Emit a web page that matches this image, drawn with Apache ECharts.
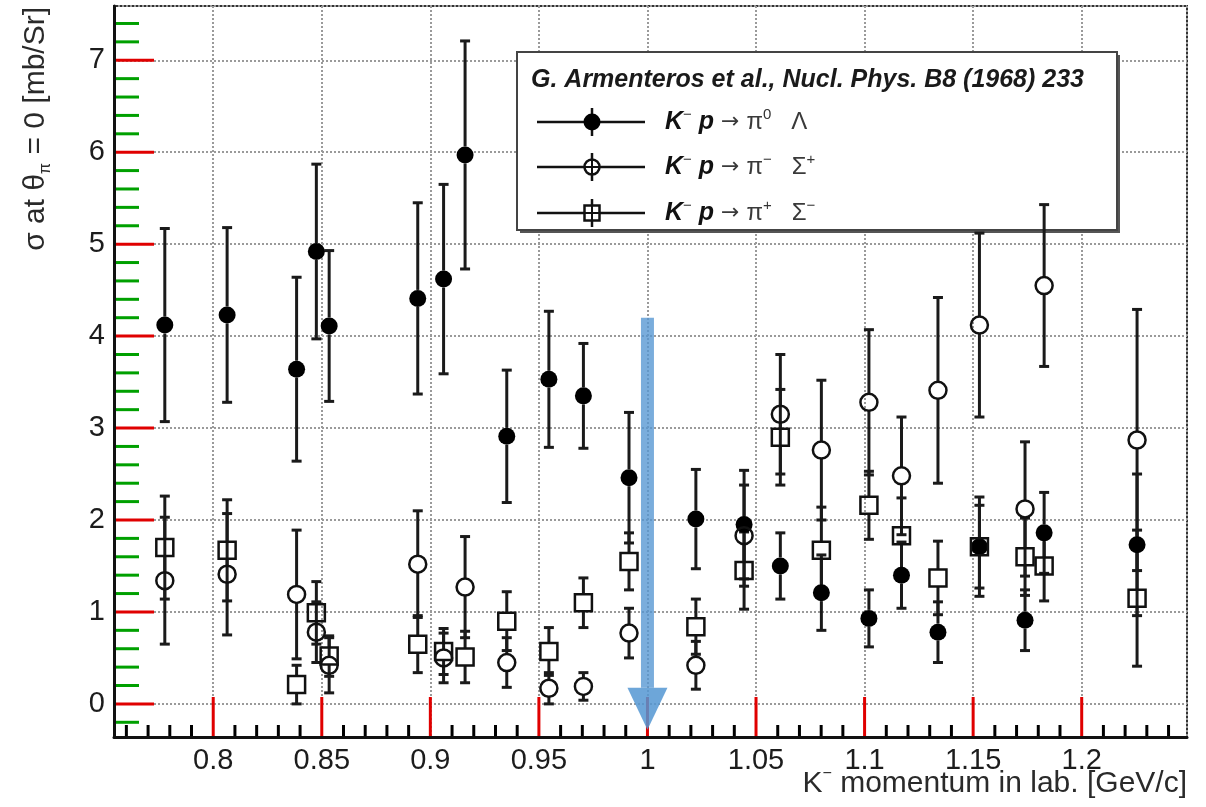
<!DOCTYPE html>
<html>
<head>
<meta charset="utf-8">
<script src="https://cdn.jsdelivr.net/npm/echarts@6/dist/echarts.min.js"></script>
<style>
  html, body { margin: 0; padding: 0; background: #fff; }
  #chart { width: 1206px; height: 807px; }
</style>
</head>
<body>
<div id="chart"></div>
<script>
// K- momentum in the lab frame [GeV/c]
const momentum = [0.7777, 0.8064, 0.8384, 0.8475, 0.8534, 0.8942, 0.9061, 0.9160,
  0.9352, 0.9546, 0.9705, 0.9915, 1.0223, 1.0445, 1.0612, 1.0801, 1.1020, 1.1170,
  1.1338, 1.1529, 1.1739, 1.1827, 1.2255];

// K- p -> pi0 Lambda  (sigma at theta_pi = 0, mb/sr) and its uncertainty
const lambdaXs = [4.12, 4.23, 3.64, 4.92, 4.11, 4.41, 4.62, 5.97, 2.91, 3.53, 3.35, 2.46,
  2.01, 1.95, 1.50, 1.21, 0.93, 1.40, 0.78, 1.71, 0.91, 1.86, 1.73];
const lambdaErr = [1.05, 0.95, 1.00, 0.95, 0.82, 1.04, 1.03, 1.24, 0.72, 0.74, 0.57, 0.71,
  0.54, 0.59, 0.36, 0.41, 0.31, 0.36, 0.33, 0.54, 0.33, 0.44, 0.77];

// K- p -> pi- Sigma+
const sigmaPlusXs = [1.34, 1.41, 1.19, 0.78, 0.42, 1.52, 0.50, 1.27, 0.45, 0.17, 0.19, 0.77,
  0.42, 1.83, 3.15, 2.76, 3.28, 2.48, 3.41, 4.12, 2.12, 4.55, 2.87];
const sigmaPlusErr = [0.69, 0.66, 0.70, 0.33, 0.30, 0.58, 0.27, 0.55, 0.27, 0.17, 0.15, 0.27,
  0.26, 0.55, 0.65, 0.76, 0.79, 0.64, 1.01, 1.00, 0.73, 0.88, 1.42];

// K- p -> pi+ Sigma-
const sigmaMinusXs = [1.70, 1.67, 0.21, 0.99, 0.52, 0.65, 0.57, 0.51, 0.90, 0.57, 1.10, 1.55,
  0.84, 1.45, 2.90, 1.67, 2.16, 1.83, 1.37, 1.71, 1.60, 1.50, 1.15];
const sigmaMinusErr = [0.56, 0.55, 0.21, 0.34, 0.22, 0.31, 0.25, 0.28, 0.32, 0.26, 0.27, 0.31,
  0.30, 0.42, 0.52, 0.47, 0.37, 0.41, 0.40, 0.45, 0.42, 0.38, 0.74];

// axes
const xTicks = [0.8, 0.85, 0.9, 0.95, 1, 1.05, 1.1, 1.15, 1.2];
const yTicks = [0, 1, 2, 3, 4, 5, 6, 7];
const xRange = [0.7543, 1.2485];
const yRange = [-0.36, 7.59];

// threshold marker (arrow from top value down to tip value)
const arrowAt = [1.0];
const arrowFrom = [4.2];
const arrowTo = [-0.28];

const FONT = "'Liberation Sans', Arial, Helvetica, sans-serif";
const INK = '#111';
const MARK = 17;

// tick positions between the labelled ones
function tickValues(lo, hi, step, skip) {
  const out = [];
  const n0 = Math.ceil(lo / step - 1e-9), n1 = Math.floor(hi / step + 1e-9);
  for (let n = n0; n <= n1; n++) {
    const v = +(n * step).toFixed(4);
    if (!skip.some(m => Math.abs(m - v) < 1e-6)) out.push(v);
  }
  return out;
}
const xMinor = tickValues(xRange[0], xRange[1], 0.01, xTicks);
const yMinor = tickValues(yRange[0], yRange[1], 0.2, yTicks);

function errorBarSeries(name, ys, es) {
  return {
    name: name + ' err',
    type: 'custom',
    z: 2,
    silent: true,
    data: momentum.map((x, i) => [x, ys[i], es[i]]),
    renderItem(params, api) {
      const x = api.value(0), y = api.value(1), e = api.value(2);
      const c = api.coord([x, y]);
      const hi = api.coord([x, y + e]);
      const lo = api.coord([x, y - e]);
      const r = MARK / 2;
      const st = { stroke: '#1a1a1a', lineWidth: 3 };
      const kids = [];
      if (hi[1] < c[1] - r) kids.push({ type: 'line', shape: { x1: c[0], y1: c[1] - r, x2: hi[0], y2: hi[1] }, style: st });
      if (lo[1] > c[1] + r) kids.push({ type: 'line', shape: { x1: c[0], y1: c[1] + r, x2: lo[0], y2: lo[1] }, style: st });
      kids.push({ type: 'line', shape: { x1: hi[0] - 5, y1: hi[1], x2: hi[0] + 5, y2: hi[1] }, style: st });
      kids.push({ type: 'line', shape: { x1: lo[0] - 5, y1: lo[1], x2: lo[0] + 5, y2: lo[1] }, style: st });
      return { type: 'group', children: kids };
    }
  };
}

function markerSeries(name, ys, symbol, filled) {
  return {
    name: name,
    type: 'scatter',
    z: 3,
    symbol: symbol,
    symbolSize: MARK,
    data: momentum.map((x, i) => [x, ys[i]]),
    itemStyle: filled
      ? { color: '#000', opacity: 1 }
      : { color: 'rgba(255,255,255,0)', borderColor: INK, borderWidth: 2.5, opacity: 1 },
    emphasis: { disabled: true }
  };
}

const arrowSeries = {
  type: 'custom',
  z: 4,
  silent: true,
  data: arrowAt.map((x, i) => [x, arrowFrom[i], arrowTo[i]]),
  renderItem(params, api) {
    const top = api.coord([api.value(0), api.value(1)]);
    const tip = api.coord([api.value(0), api.value(2)]);
    const headLen = 42, headHalf = 20, shaftHalf = 6.5;
    const base = tip[1] - headLen;
    return {
      type: 'group',
      children: [
        { type: 'rect', shape: { x: top[0] - shaftHalf, y: top[1], width: shaftHalf * 2, height: base - top[1] },
          style: { fill: 'rgba(84,150,210,0.78)' } },
        { type: 'polygon', shape: { points: [[tip[0] - headHalf, base], [tip[0] + headHalf, base], [tip[0], tip[1]]] },
          style: { fill: 'rgba(84,150,210,0.85)' } }
      ]
    };
  }
};

const gridLine = { show: true, lineStyle: { color: '#9a9a9a', width: 2, type: [2, 2] } };

// legend drawn as a boxed panel inside the frame
const L = { x: 517, y: 52, w: 600, h: 178 };
const rowsY = [122, 167, 213];
const legendRows = [
  { text: '{b|K}{sup|−}{b| p}{ar| → }{n|π}{sup|0}{n|   Λ}', kind: 'filled' },
  { text: '{b|K}{sup|−}{b| p}{ar| → }{n|π}{sup|−}{n|   Σ}{sup|+}', kind: 'circle' },
  { text: '{b|K}{sup|−}{b| p}{ar| → }{n|π}{sup|+}{n|   Σ}{sup|−}', kind: 'square' }
];
const richRow = {
  b: { fontFamily: FONT, fontSize: 25, fontWeight: 'bold', fontStyle: 'italic', fill: '#111', lineHeight: 30 },
  n: { fontFamily: FONT, fontSize: 24, fill: '#3a3a3a', lineHeight: 30 },
  ar: { fontFamily: "'DejaVu Sans', sans-serif", fontSize: 22, fill: '#3a3a3a', lineHeight: 30 },
  sup: { fontFamily: FONT, fontSize: 15, fill: '#333', verticalAlign: 'top', lineHeight: 30 }
};
const legendChildren = [
  { type: 'rect', shape: { x: L.x + 3, y: L.y + 3, width: L.w, height: L.h }, style: { fill: '#555' } },
  { type: 'rect', shape: { x: L.x, y: L.y, width: L.w, height: L.h }, style: { fill: '#fff', stroke: '#444', lineWidth: 2 } },
  { type: 'text', x: L.x + 14, y: 80,
    style: { text: 'G. Armenteros et al., Nucl. Phys. B8 (1968) 233', fontFamily: FONT, fontSize: 25,
      fontStyle: 'italic', fontWeight: 'bold', fill: '#1a1a1a', align: 'left', verticalAlign: 'middle' } }
];
legendRows.forEach((row, i) => {
  const y = rowsY[i];
  const mx = 592;
  legendChildren.push({ type: 'line', shape: { x1: 537, y1: y, x2: 645, y2: y }, style: { stroke: INK, lineWidth: 2.5 } });
  legendChildren.push({ type: 'line', shape: { x1: mx, y1: y - 14, x2: mx, y2: y + 14 }, style: { stroke: INK, lineWidth: 2.5 } });
  if (row.kind === 'filled') {
    legendChildren.push({ type: 'circle', shape: { cx: mx, cy: y, r: MARK / 2 }, style: { fill: '#000' } });
  } else if (row.kind === 'circle') {
    legendChildren.push({ type: 'circle', shape: { cx: mx, cy: y, r: MARK / 2 - 1 }, style: { fill: '#fff', stroke: INK, lineWidth: 2.5 } });
    legendChildren.push({ type: 'line', shape: { x1: mx - 7, y1: y, x2: mx + 7, y2: y }, style: { stroke: INK, lineWidth: 2 } });
    legendChildren.push({ type: 'line', shape: { x1: mx, y1: y - 7, x2: mx, y2: y + 7 }, style: { stroke: INK, lineWidth: 2 } });
  } else {
    legendChildren.push({ type: 'rect', shape: { x: mx - MARK / 2 + 1, y: y - MARK / 2 + 1, width: MARK - 2, height: MARK - 2 }, style: { fill: '#fff', stroke: INK, lineWidth: 2.5 } });
    legendChildren.push({ type: 'line', shape: { x1: mx - 7, y1: y, x2: mx + 7, y2: y }, style: { stroke: INK, lineWidth: 2 } });
    legendChildren.push({ type: 'line', shape: { x1: mx, y1: y - 7, x2: mx, y2: y + 7 }, style: { stroke: INK, lineWidth: 2 } });
  }
  legendChildren.push({ type: 'text', x: 665, y: y,
    style: { text: row.text, rich: richRow, align: 'left', verticalAlign: 'middle' } });
});

const chart = echarts.init(document.getElementById('chart'), null, { renderer: 'canvas' });
chart.setOption({
  animation: false,
  backgroundColor: '#fff',
  grid: { left: 114, top: 6, right: 19, bottom: 70, show: true, borderColor: '#333', borderWidth: 2, containLabel: false },
  xAxis: {
    type: 'value', min: xRange[0], max: xRange[1], splitNumber: 10,
    axisLine: { show: true, onZero: false, lineStyle: { color: INK, width: 3 } },
    axisTick: { show: false },
    axisLabel: { show: true, customValues: xTicks, margin: 9, fontSize: 29, fontFamily: FONT, color: '#1c1c1c' },
    splitLine: gridLine
  },
  yAxis: {
    type: 'value', min: yRange[0], max: yRange[1], splitNumber: 8,
    axisLine: { show: true, onZero: false, lineStyle: { color: INK, width: 3 } },
    axisTick: { show: false },
    axisLabel: { show: true, customValues: yTicks, margin: 9, fontSize: 29, fontFamily: FONT, color: '#1c1c1c' },
    splitLine: gridLine
  },
  series: [
    errorBarSeries('pi0 Lambda', lambdaXs, lambdaErr),
    errorBarSeries('pi- Sigma+', sigmaPlusXs, sigmaPlusErr),
    errorBarSeries('pi+ Sigma-', sigmaMinusXs, sigmaMinusErr),
    markerSeries('pi0 Lambda', lambdaXs, 'circle', true),
    markerSeries('pi- Sigma+', sigmaPlusXs, 'circle', false),
    markerSeries('pi+ Sigma-', sigmaMinusXs, 'rect', false),
    arrowSeries
  ]
});

// inward tick marks on the bottom and left frame edges, placed through the axis scales
const toPx = (x, y) => chart.convertToPixel({ gridIndex: 0 }, [x, y]);
const tickLines = [];
function addTicks(values, onLeft, len, color) {
  const st = { stroke: color, lineWidth: 3 };
  values.forEach(v => {
    const p = onLeft ? toPx(xRange[0], v) : toPx(v, yRange[0]);
    tickLines.push(onLeft
      ? { type: 'line', shape: { x1: p[0], y1: p[1], x2: p[0] + len, y2: p[1] }, style: st }
      : { type: 'line', shape: { x1: p[0], y1: p[1], x2: p[0], y2: p[1] - len }, style: st });
  });
}
addTicks(xTicks, false, 40, '#e00000');
addTicks(xMinor, false, 12, '#000');
addTicks(yTicks, true, 40, '#e00000');
addTicks(yMinor, true, 25, '#00a000');

chart.setOption({
  graphic: [
    { id: 'ticks', type: 'group', z: 8, silent: true, children: tickLines },
    { id: 'legend', type: 'group', z: 10, children: legendChildren },
    { id: 'ytitle', type: 'text', x: 36, y: 7, rotation: Math.PI / 2, z: 10,
      style: { text: 'σ at θ{sub|π} = 0 [mb/Sr]', fontFamily: FONT, fontSize: 30, fill: '#2a2a2a',
        align: 'right', verticalAlign: 'middle',
        rich: { sub: { fontFamily: FONT, fontSize: 16, fill: '#2a2a2a', verticalAlign: 'bottom', lineHeight: 36 } } } },
    { id: 'xtitle', type: 'text', x: 1187, y: 784, z: 10,
      style: { text: 'K{sup|−} momentum in lab. [GeV/c]', fontFamily: FONT, fontSize: 30, fill: '#2a2a2a',
        align: 'right', verticalAlign: 'middle',
        rich: { sup: { fontFamily: FONT, fontSize: 16, fill: '#2a2a2a', verticalAlign: 'top', lineHeight: 36 } } } }
  ]
});
</script>
</body>
</html>
